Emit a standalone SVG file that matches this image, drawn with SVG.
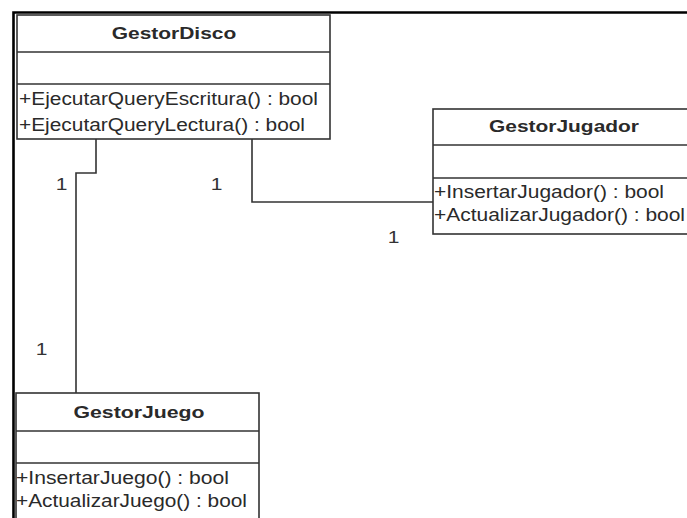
<svg xmlns="http://www.w3.org/2000/svg" width="687" height="518" viewBox="0 0 687 518">
  <style>
    .box { fill: #ffffff; stroke: #333333; stroke-width: 1.6; }
    .div { stroke: #333333; stroke-width: 1.6; }
    .title { font-family: "Liberation Sans", Arial, sans-serif; font-size: 17px; font-weight: bold; fill: #2a2a2a; text-anchor: middle; }
    .op { font-family: "Liberation Sans", Arial, sans-serif; font-size: 17.5px; fill: #2a2a2a; }
    .mult { font-family: "Liberation Sans", Arial, sans-serif; font-size: 17px; fill: #333333; text-anchor: middle; }
    .conn { fill: none; stroke: #333333; stroke-width: 1.6; }
  </style>

  <rect width="687" height="518" fill="#ffffff"/>

  <!-- diagram frame -->
  <path d="M13.5,520 V12.5 H690" fill="none" stroke="#000000" stroke-width="2.6"/>

  <!-- associations -->
  <g id="connectors">
    <path class="conn" d="M96,139 V173 H76 V393"/>
    <path class="conn" d="M252,139 V202 H433"/>
    <text class="mult" x="61.5" y="190" textLength="11.7" lengthAdjust="spacingAndGlyphs">1</text>
    <text class="mult" x="216.5" y="190" textLength="11.7" lengthAdjust="spacingAndGlyphs">1</text>
    <text class="mult" x="393.5" y="243" textLength="11.7" lengthAdjust="spacingAndGlyphs">1</text>
    <text class="mult" x="41.5" y="355" textLength="11.7" lengthAdjust="spacingAndGlyphs">1</text>
  </g>

  <!-- GestorDisco -->
  <g id="GestorDisco">
    <rect class="box" x="17" y="15" width="313" height="124"/>
    <line class="div" x1="17" y1="52" x2="330" y2="52"/>
    <line class="div" x1="17" y1="84" x2="330" y2="84"/>
    <text class="title" x="174" y="39" textLength="124.6" lengthAdjust="spacingAndGlyphs">GestorDisco</text>
    <text class="op" x="19" y="105" textLength="299" lengthAdjust="spacingAndGlyphs">+EjecutarQueryEscritura() : bool</text>
    <text class="op" x="19" y="131" textLength="286" lengthAdjust="spacingAndGlyphs">+EjecutarQueryLectura() : bool</text>
  </g>

  <!-- GestorJugador -->
  <g id="GestorJugador">
    <rect class="box" x="433" y="109" width="262" height="125"/>
    <line class="div" x1="433" y1="145" x2="695" y2="145"/>
    <line class="div" x1="433" y1="178" x2="695" y2="178"/>
    <text class="title" x="564" y="132" textLength="150" lengthAdjust="spacingAndGlyphs">GestorJugador</text>
    <text class="op" x="434" y="198" textLength="230" lengthAdjust="spacingAndGlyphs">+InsertarJugador() : bool</text>
    <text class="op" x="434" y="221" textLength="251" lengthAdjust="spacingAndGlyphs">+ActualizarJugador() : bool</text>
  </g>

  <!-- GestorJuego -->
  <g id="GestorJuego">
    <rect class="box" x="16" y="393" width="243" height="130"/>
    <line class="div" x1="16" y1="431" x2="259" y2="431"/>
    <line class="div" x1="16" y1="463" x2="259" y2="463"/>
    <text class="title" x="139" y="418" textLength="131" lengthAdjust="spacingAndGlyphs">GestorJuego</text>
    <text class="op" x="16" y="484" textLength="213" lengthAdjust="spacingAndGlyphs">+InsertarJuego() : bool</text>
    <text class="op" x="16" y="507" textLength="231" lengthAdjust="spacingAndGlyphs">+ActualizarJuego() : bool</text>
  </g>
</svg>
